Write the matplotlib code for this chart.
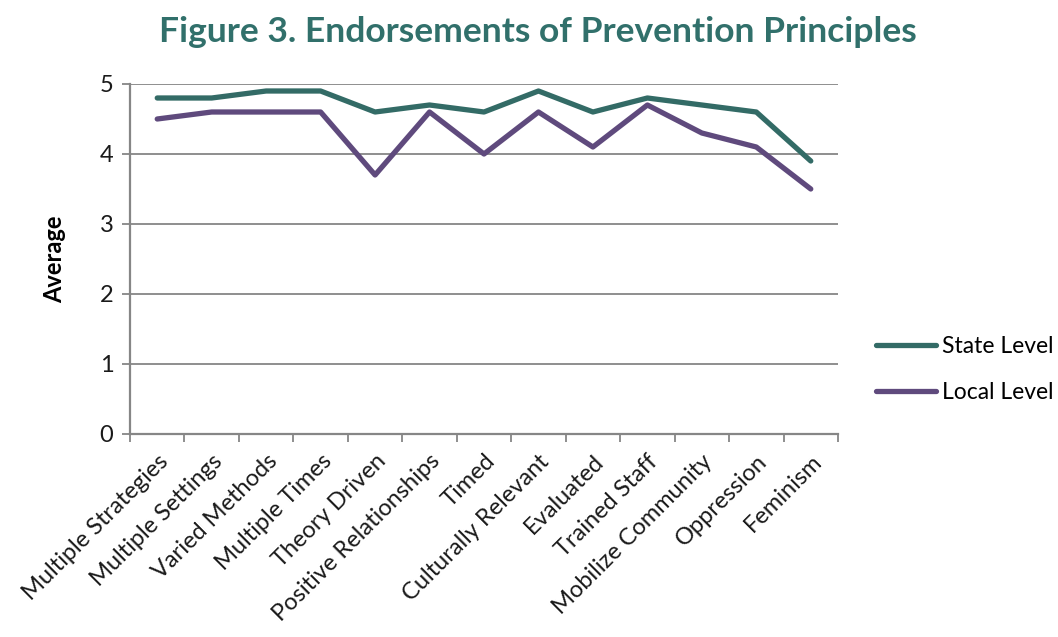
import matplotlib
matplotlib.use("Agg")
import matplotlib.pyplot as plt

categories = ["Multiple Strategies", "Multiple Settings", "Varied Methods", "Multiple Times",
              "Theory Driven", "Positive Relationships", "Timed", "Culturally Relevant",
              "Evaluated", "Trained Staff", "Mobilize Community", "Oppression", "Feminism"]
state_level = [4.8, 4.8, 4.9, 4.9, 4.6, 4.7, 4.6, 4.9, 4.6, 4.8, 4.7, 4.6, 3.9]
local_level = [4.5, 4.6, 4.6, 4.6, 3.7, 4.6, 4.0, 4.6, 4.1, 4.7, 4.3, 4.1, 3.5]
y_ticks = [0, 1, 2, 3, 4, 5]

plt.rcParams['font.family'] = ['Lato', 'DejaVu Sans']

fig = plt.figure(figsize=(10.58, 6.37), dpi=100)
ax = fig.add_axes([130 / 1058, 1 - 434 / 637, 708 / 1058, 350 / 637])

x = list(range(len(categories)))
ax.plot(x, state_level, color="#336B66", lw=3.8, solid_capstyle="round", label="State Level")
ax.plot(x, local_level, color="#5F4A7D", lw=3.8, solid_capstyle="round", label="Local Level")

grid_c = "#868686"
ax.set_xlim(-0.5, len(categories) - 0.5)
ax.set_ylim(0, 5)
ax.set_yticks(y_ticks)
ax.yaxis.grid(True, color=grid_c, lw=1.3)
ax.set_axisbelow(True)
for s in ["top", "right"]:
    ax.spines[s].set_visible(False)
for s in ["left", "bottom"]:
    ax.spines[s].set_color(grid_c)
    ax.spines[s].set_linewidth(1.6)

# category ticks sit between the points
ax.set_xticks([i - 0.5 for i in range(len(categories) + 1)], minor=False)
ax.set_xticklabels([])
ax.set_xticks(x, minor=True)
ax.set_xticklabels(categories, minor=True, rotation=45, ha="right", va="top",
                   rotation_mode="anchor", fontsize=17, color="#1a1a1a")
ax.tick_params(axis="x", which="major", length=6, color=grid_c, width=1.3)
ax.tick_params(axis="x", which="minor", length=0, pad=12)
ax.tick_params(axis="y", length=6, color=grid_c, width=1.3, labelsize=17, pad=6,
               labelcolor="#1a1a1a")

ax.set_ylabel("Average", fontsize=17, fontweight="bold", labelpad=24)

fig.text(0.508, 0.949, "Figure 3. Endorsements of Prevention Principles",
         ha="center", va="center", fontsize=25.5, fontweight="bold", color="#31706B")

ax.legend(loc="center left", bbox_to_anchor=(1.025, 0.185), frameon=False,
          fontsize=16.5, handlelength=2.6, handletextpad=0.25, labelspacing=1.1)

fig.savefig("out.png", dpi=100)
